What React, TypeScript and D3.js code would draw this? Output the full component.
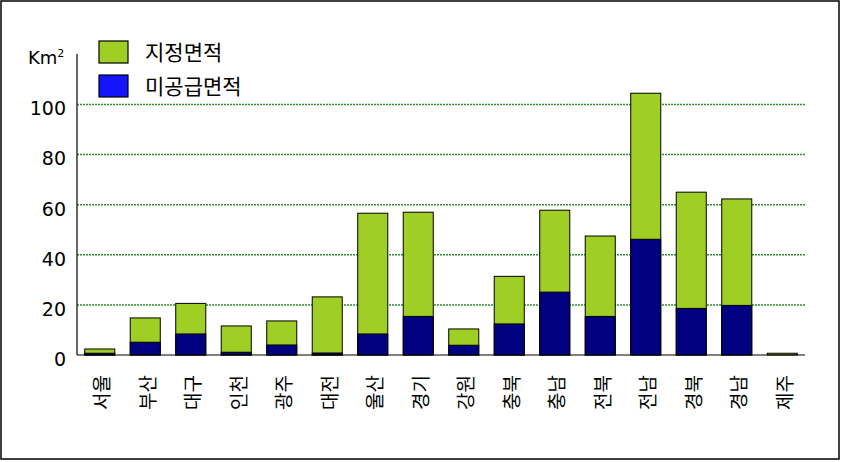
import React from 'react';
import { scaleBand, scaleLinear } from 'd3';

// 시도별 산업단지 면적 (Km²)
const regions = ['서울', '부산', '대구', '인천', '광주', '대전', '울산', '경기', '강원', '충북', '충남', '전북', '전남', '경북', '경남', '제주'];
const designated = [2.4, 14.8, 20.6, 11.6, 13.6, 23.2, 56.6, 57.0, 10.4, 31.4, 57.8, 47.5, 104.5, 65.0, 62.3, 0.7];
const unsupplied = [0.7, 5.1, 8.4, 1.1, 4.0, 0.8, 8.4, 15.4, 3.9, 12.4, 25.1, 15.4, 46.2, 18.6, 19.8, 0];
const yTicks = [0, 20, 40, 60, 80, 100];
const legendItems = [
  { label: '지정면적', color: '#9fcf24' },
  { label: '미공급면적', color: '#1414ff' },
];

const W = 848;
const H = 462;
const left = 77;
const right = 805;
const top = 54;
const bottom = 355;

const numFont = '"DejaVu Sans", Verdana, sans-serif';
const korFont = '"Noto Sans CJK KR", "DejaVu Sans", sans-serif';

export default function App() {
  const x = scaleBand<string>().domain(regions).range([left, right]).paddingInner(0.34).paddingOuter(0.17);
  const y = scaleLinear().domain([0, 100]).range([bottom, bottom - 250.5]);

  return (
    <svg width={W} height={H} style={{ position: 'absolute', left: 0, top: 0, background: '#fff' }}>
      <rect x={1} y={1} width={838} height={458} fill="#fff" stroke="#000" strokeWidth={1.5} />

      {/* gridlines */}
      {yTicks.filter(t => t > 0).map(t => (
        <line key={t} x1={left} x2={right} y1={y(t)} y2={y(t)} stroke="#2f8f2f" strokeWidth={1.5} strokeDasharray="2 1" />
      ))}

      {/* bars */}
      {regions.map((r, i) => (
        <g key={r}>
          <rect x={x(r)} y={y(designated[i])} width={x.bandwidth()} height={bottom - y(designated[i])}
            fill="#9fcf24" stroke="#000" strokeWidth={1} />
          {unsupplied[i] > 0 && (
            <rect x={x(r)} y={y(unsupplied[i])} width={x.bandwidth()} height={bottom - y(unsupplied[i])}
              fill="#000080" stroke="#000" strokeWidth={1} />
          )}
        </g>
      ))}

      {/* axes */}
      <line x1={left} x2={left} y1={top} y2={bottom} stroke="#000" strokeWidth={1.2} />
      <line x1={left} x2={right} y1={bottom} y2={bottom} stroke="#000" strokeWidth={1.2} />

      {yTicks.map(t => (
        <text key={t} x={66} y={y(t) + 4} dy="0.36em" textAnchor="end" fontFamily={numFont} fontSize={19} fill="#000">{t}</text>
      ))}
      <text x={28} y={64} fontFamily={numFont} fontSize={18} fill="#000">
        Km<tspan dy={-7} fontSize={11}>2</tspan>
      </text>

      {/* category labels */}
      {regions.map(r => (
        <text key={r} transform={`translate(${(x(r) ?? 0) + x.bandwidth() / 2},375) rotate(-90)`}
          textAnchor="end" dy="0.5em" fontFamily={korFont} fontSize={19} fill="#000">{r}</text>
      ))}

      {/* legend */}
      {legendItems.map((d, i) => (
        <g key={d.label} transform={`translate(99,${41 + i * 34})`}>
          <rect width={29} height={22} fill={d.color} stroke="#000" strokeWidth={1.2} />
          <text x={46} y={11} dy="0.36em" fontFamily={korFont} fontSize={21} fill="#000">{d.label}</text>
        </g>
      ))}
    </svg>
  );
}
